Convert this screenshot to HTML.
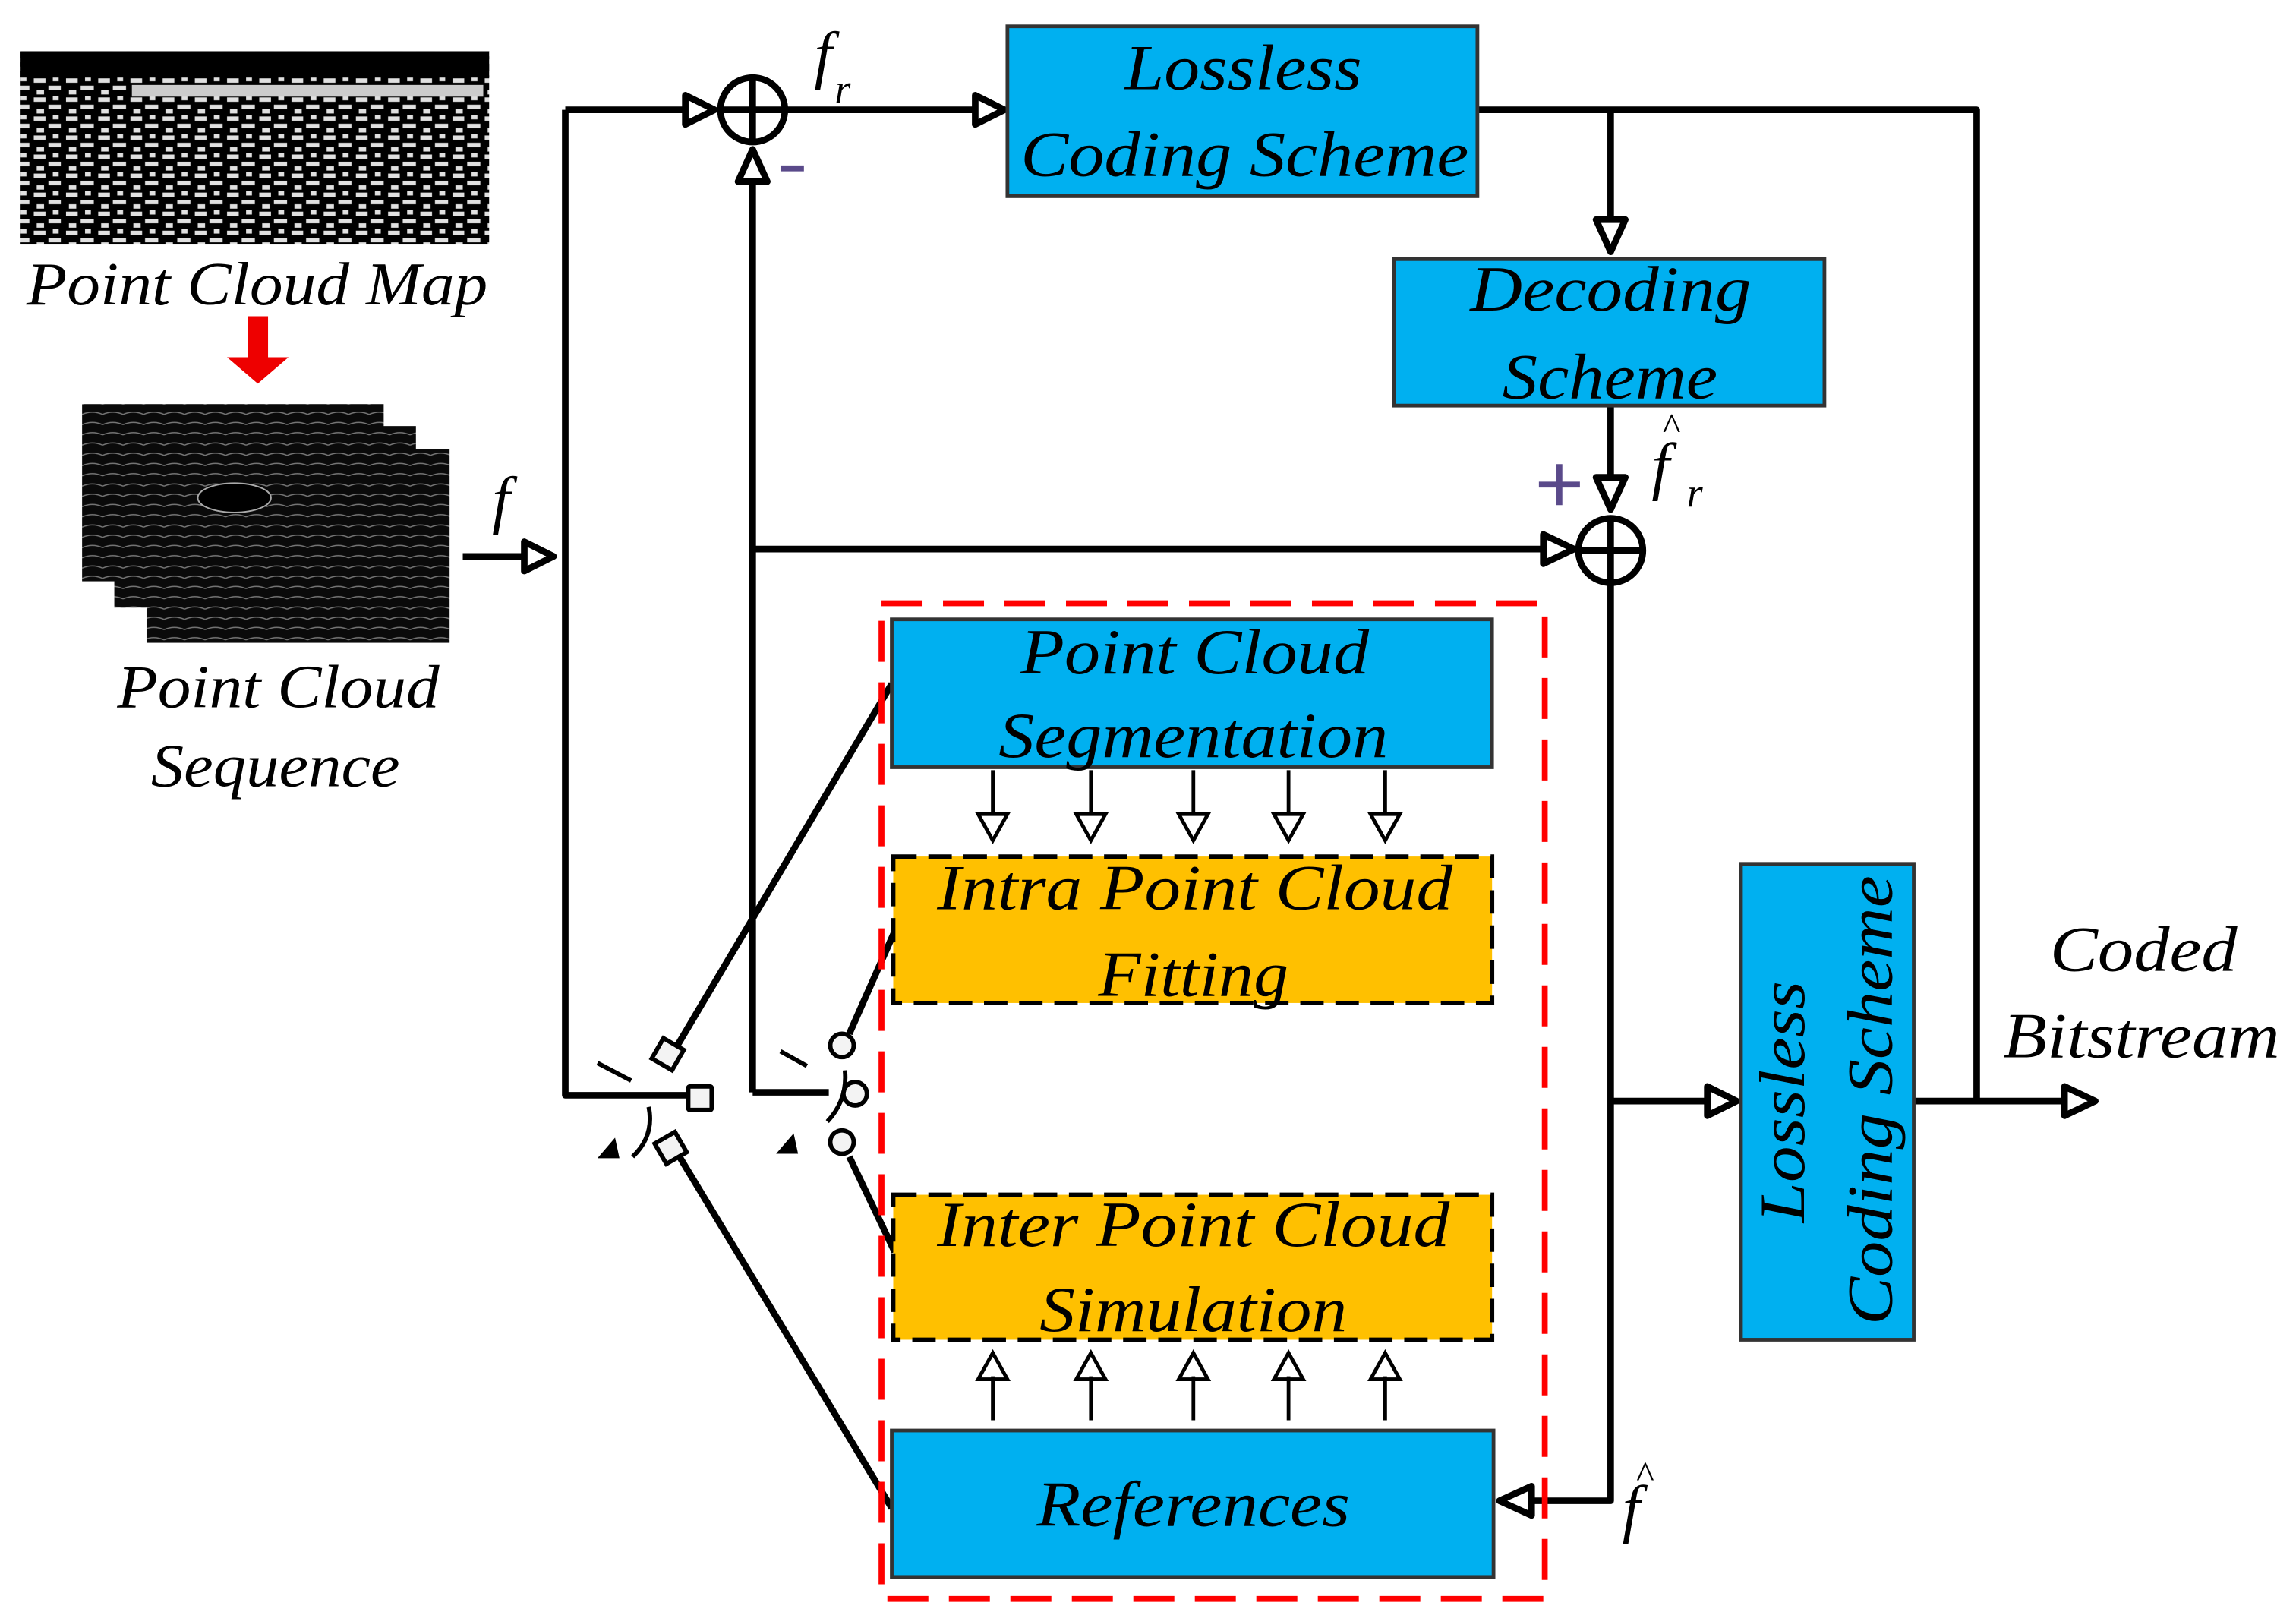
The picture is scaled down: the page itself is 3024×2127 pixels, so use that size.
<!DOCTYPE html>
<html><head><meta charset="utf-8"><style>html,body{margin:0;padding:0;background:#fff}svg{display:block}text{font-family:"Liberation Serif",serif;font-style:italic}</style></head><body>
<svg width="3024" height="2127" viewBox="0 0 1568 1103" xmlns="http://www.w3.org/2000/svg">
<defs>
<pattern id="n1" width="22" height="13" patternUnits="userSpaceOnUse"><rect width="22" height="13" fill="#000"/><path d="M1 3h8M11 8h9M3 11h5M14 2h4" stroke="#e0e0e0" stroke-width="3"/></pattern>
<pattern id="n2" width="14" height="7" patternUnits="userSpaceOnUse"><rect width="14" height="7" fill="#0a0a0a"/><path d="M0 3q7-3 14 0" stroke="#777" stroke-width="0.8" fill="none"/></pattern>
</defs>
<rect width="1568" height="1103" fill="#fff"/>
<rect x="14" y="35" width="320" height="132" fill="url(#n1)"/>
<rect x="14" y="35" width="320" height="18" fill="#000"/>
<rect x="90" y="58" width="240" height="8" fill="#ccc"/>
<text x="18" y="208" font-size="42" textLength="315" lengthAdjust="spacingAndGlyphs">Point Cloud Map</text>
<path d="M169 216h14v28h14l-21 18-21-18h14z" fill="#e00"/>
<rect x="100" y="307" width="207" height="132" fill="url(#n2)"/>
<rect x="78" y="291" width="206" height="124" fill="url(#n2)"/>
<rect x="56" y="276" width="206" height="121" fill="url(#n2)"/>
<ellipse cx="160" cy="340" rx="25" ry="10" fill="#000" stroke="#aaa"/>
<text x="80" y="483" font-size="42" textLength="220" lengthAdjust="spacingAndGlyphs">Point Cloud</text>
<text x="103" y="537" font-size="42" textLength="170" lengthAdjust="spacingAndGlyphs">Sequence</text>
<g stroke="#000" stroke-width="4.5" fill="none" stroke-linejoin="round">
<path d="M316 380H358"/><path d="M358 370l20 10-20 10z" fill="#fff"/>
<path d="M386 75V748H470"/>
<path d="M386 75H470"/><path d="M468 65l20 10-20 10z" fill="#fff"/>
<circle cx="514" cy="75" r="22" fill="#fff"/><path d="M492 75h44M514 53v44"/>
<path d="M537 75H668"/><path d="M666 65l20 10-20 10z" fill="#fff"/>
<path d="M1009 75H1350V752"/>
<path d="M1100 75V150"/><path d="M1090 150l10 22 10-22z" fill="#fff"/>
<path d="M1100 277V326"/><path d="M1090 326l10 22 10-22z" fill="#fff"/>
<circle cx="1100" cy="376" r="22" fill="#fff"/><path d="M1078 376h44M1100 354v44"/>
<path d="M514 375H1054"/><path d="M1054 365l21 10-21 10z" fill="#fff"/>
<path d="M514 746V122"/><path d="M504 124l10-22 10 22z" fill="#fff"/>
<path d="M514 746H566"/>
<path d="M1100 398V1025H1046"/><path d="M1046 1015l-22 10 22 10z" fill="#fff"/>
<path d="M1100 752H1168"/><path d="M1166 742l20 10-20 10z" fill="#fff"/>
<path d="M1307 752H1410"/><path d="M1410 742l21 10-21 10z" fill="#fff"/>
<path d="M609 467L462 715"/><path d="M609 1030L464 790"/>
<path d="M580 706L611 636"/><path d="M580 790L611 855"/>
</g>
<g stroke="#000" stroke-width="3" fill="#f3f3f3">
<rect x="470" y="742" width="16" height="16" rx="1"/>
<rect x="448" y="712" width="16" height="16" transform="rotate(30 456 720)"/>
<rect x="450" y="776" width="16" height="16" transform="rotate(-30 458 784)"/>
<circle cx="575" cy="714" r="8"/><circle cx="584" cy="747" r="8"/><circle cx="575" cy="780" r="8"/>
<path d="M408 726l23 12M533 718l18 10M443 756q4 20-11 34M577 731q2 20-12 35" fill="none"/>
<path d="M611 634v10" fill="none"/>
</g>
<path d="M408 791l12-14 3 14z" fill="#000"/><path d="M530 788l12-14 3 14z" fill="#000"/>
<rect x="602" y="412" width="453" height="680" fill="none" stroke="#f00" stroke-width="4" stroke-dasharray="28,14"/>
<g stroke="#333" stroke-width="2.5" fill="#00B0F0">
<rect x="688" y="18" width="321" height="116"/>
<rect x="952" y="177" width="294" height="100"/>
<rect x="1189" y="590" width="118" height="325"/>
<rect x="609" y="423" width="410" height="101"/>
<rect x="609" y="977" width="411" height="100"/>
</g>
<g stroke="#000" stroke-width="3" fill="#FFC000" stroke-dasharray="16,8">
<rect x="610" y="585" width="409" height="100"/>
<rect x="610" y="816" width="409" height="99"/>
</g>
<g stroke="#000" stroke-width="2.5" fill="#fff">
<g id="dn"><path d="M678 526v30M668 556l10 18 10-18z"/></g>
<use href="#dn" x="67"/><use href="#dn" x="137"/><use href="#dn" x="202"/><use href="#dn" x="268"/>
<g id="up"><path d="M678 970v-30M668 942l10-18 10 18z"/></g>
<use href="#up" x="67"/><use href="#up" x="137"/><use href="#up" x="202"/><use href="#up" x="268"/>
</g>
<g font-size="44">
<text x="768" y="61" textLength="162" lengthAdjust="spacingAndGlyphs">Lossless</text>
<text x="697" y="120" textLength="306" lengthAdjust="spacingAndGlyphs">Coding Scheme</text>
<text x="1004" y="212" textLength="192" lengthAdjust="spacingAndGlyphs">Decoding</text>
<text x="1026" y="272" textLength="147" lengthAdjust="spacingAndGlyphs">Scheme</text>
<text x="697" y="460" textLength="238" lengthAdjust="spacingAndGlyphs">Point Cloud</text>
<text x="682" y="517" textLength="266" lengthAdjust="spacingAndGlyphs">Segmentation</text>
<text x="640" y="621" textLength="352" lengthAdjust="spacingAndGlyphs">Intra Point Cloud</text>
<text x="750" y="680" textLength="130" lengthAdjust="spacingAndGlyphs">Fitting</text>
<text x="640" y="851" textLength="350" lengthAdjust="spacingAndGlyphs">Inter Point Cloud</text>
<text x="710" y="909" textLength="210" lengthAdjust="spacingAndGlyphs">Simulation</text>
<text x="708" y="1042" textLength="214" lengthAdjust="spacingAndGlyphs">References</text>
<text transform="translate(1232 835) rotate(-90)" textLength="165" lengthAdjust="spacingAndGlyphs">Lossless</text>
<text transform="translate(1292 905) rotate(-90)" textLength="307" lengthAdjust="spacingAndGlyphs">Coding Scheme</text>
<text x="1400" y="663" textLength="128" lengthAdjust="spacingAndGlyphs">Coded</text>
<text x="1368" y="722" textLength="189" lengthAdjust="spacingAndGlyphs">Bitstream</text>
</g>
<g font-size="44">
<text x="336" y="356">f</text>
<text x="556" y="52">f</text><text x="570" y="70" font-size="28">r</text>
<text x="1128" y="333">f</text><text x="1135" y="300" font-size="26">^</text><text x="1152" y="346" font-size="28">r</text>
<text x="1108" y="1045">f</text><text x="1117" y="1016" font-size="26">^</text>
</g>
<path d="M533 115h16" stroke="#5a4a8a" stroke-width="4"/>
<path d="M1051 331h28M1065 317v28" stroke="#5a4a8a" stroke-width="4"/>
</svg>
</body></html>
